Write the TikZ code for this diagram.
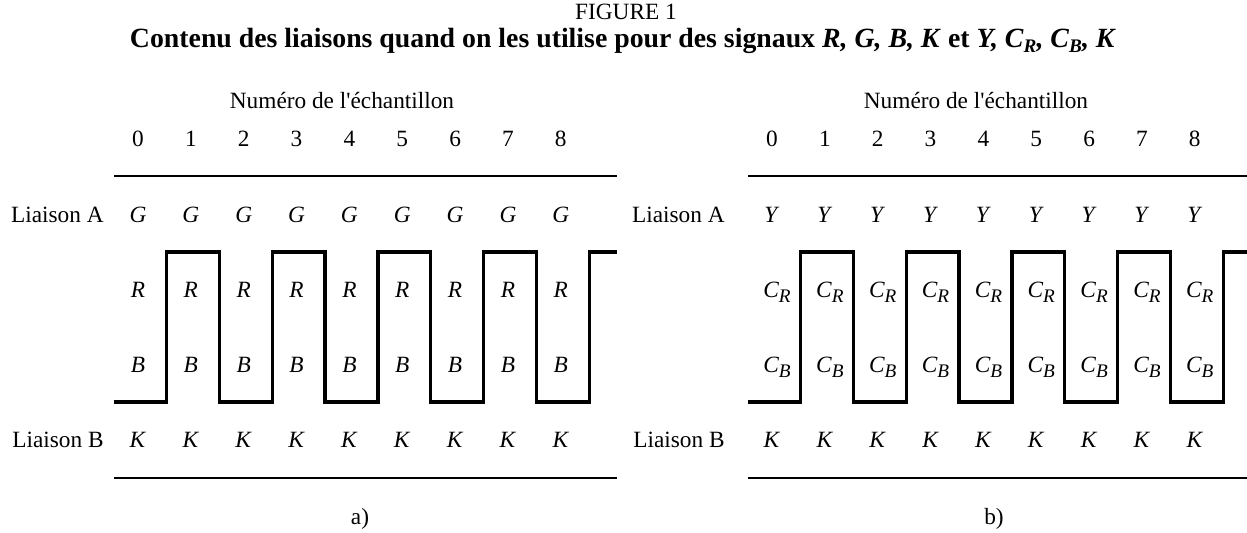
\documentclass[tikz,border=0pt]{standalone}
\usepackage{fontspec}
\setmainfont{Liberation Serif}
\newcommand{\chroma}[1]{\textit{C}\raisebox{-2.5pt}{\fontsize{9.6}{10}\selectfont\textit{#1}}}
\tikzset{
  txt/.style={inner sep=0pt, font=\fontsize{11.65}{14}\selectfont},
  rule/.style={line width=0.8pt},
  wave/.style={line width=1.6pt, line join=miter},
}

\begin{document}
\begin{tikzpicture}[x=0.5pt,y=-0.5pt]
\useasboundingbox (0,0) rectangle (1247,533);

\node[txt] (figno) at (626,12) {FIGURE 1};
\node[txt,font=\fontsize{13.9}{16}\selectfont\bfseries] (caption) at (623,41)
  {Contenu des liaisons quand on les utilise pour des signaux \textit{R, G, B, K} et \textit{Y, }\chroma{R}\textit{, }\chroma{B}\textit{, K}};

\foreach \p/\dx/\lx/\e/\sx/\ra/\rb/\rc in {a/0/104/617/0/G/R/B, b/634/91/613/5/Y/\chroma{R}/\chroma{B}}{
\begin{scope}[shift={(\dx,0)}]
  \node[txt] (head\p) at (342,101) {Numéro de l\textquotesingle échantillon};
  \node[txt,anchor=base east] (linka\p) at (\lx,223) {Liaison A};
  \node[txt,anchor=base east] (linkb\p) at (\lx,448) {Liaison B};
  \foreach \k in {0,...,8}{
    \node[txt,anchor=base] (num\p\k) at ({138+52.85*\k},147) {\k};
    \node[txt,anchor=base] (rowa\p\k) at ({138+52.85*\k},223) {\textit{\ra}};
    \node[txt,anchor=base] (rowr\p\k) at ({138+\sx+52.85*\k},298) {\textit{\rb}};
    \node[txt,anchor=base] (rowb\p\k) at ({138+\sx+52.85*\k},373) {\textit{\rc}};
    \node[txt,anchor=base] (rowk\p\k) at ({138+52.85*\k},448) {\textit{K}};
  }
  \coordinate (topl\p) at (114,176);
  \coordinate (topr\p) at (\e,176);
  \coordinate (botl\p) at (114,478);
  \coordinate (botr\p) at (\e,478);
  \draw[rule] (topl\p) -- (topr\p);
  \draw[rule] (botl\p) -- (botr\p);
  \draw[wave] (114,402) \foreach \k in {0,...,8}{ -| ({166.5+52.85*\k},{327-75*cos(180*\k)}) } -- (\e,252);
  \node[txt] (tag\p) at (360,519) {\p)};
\end{scope}
}

\end{tikzpicture}
\end{document}
